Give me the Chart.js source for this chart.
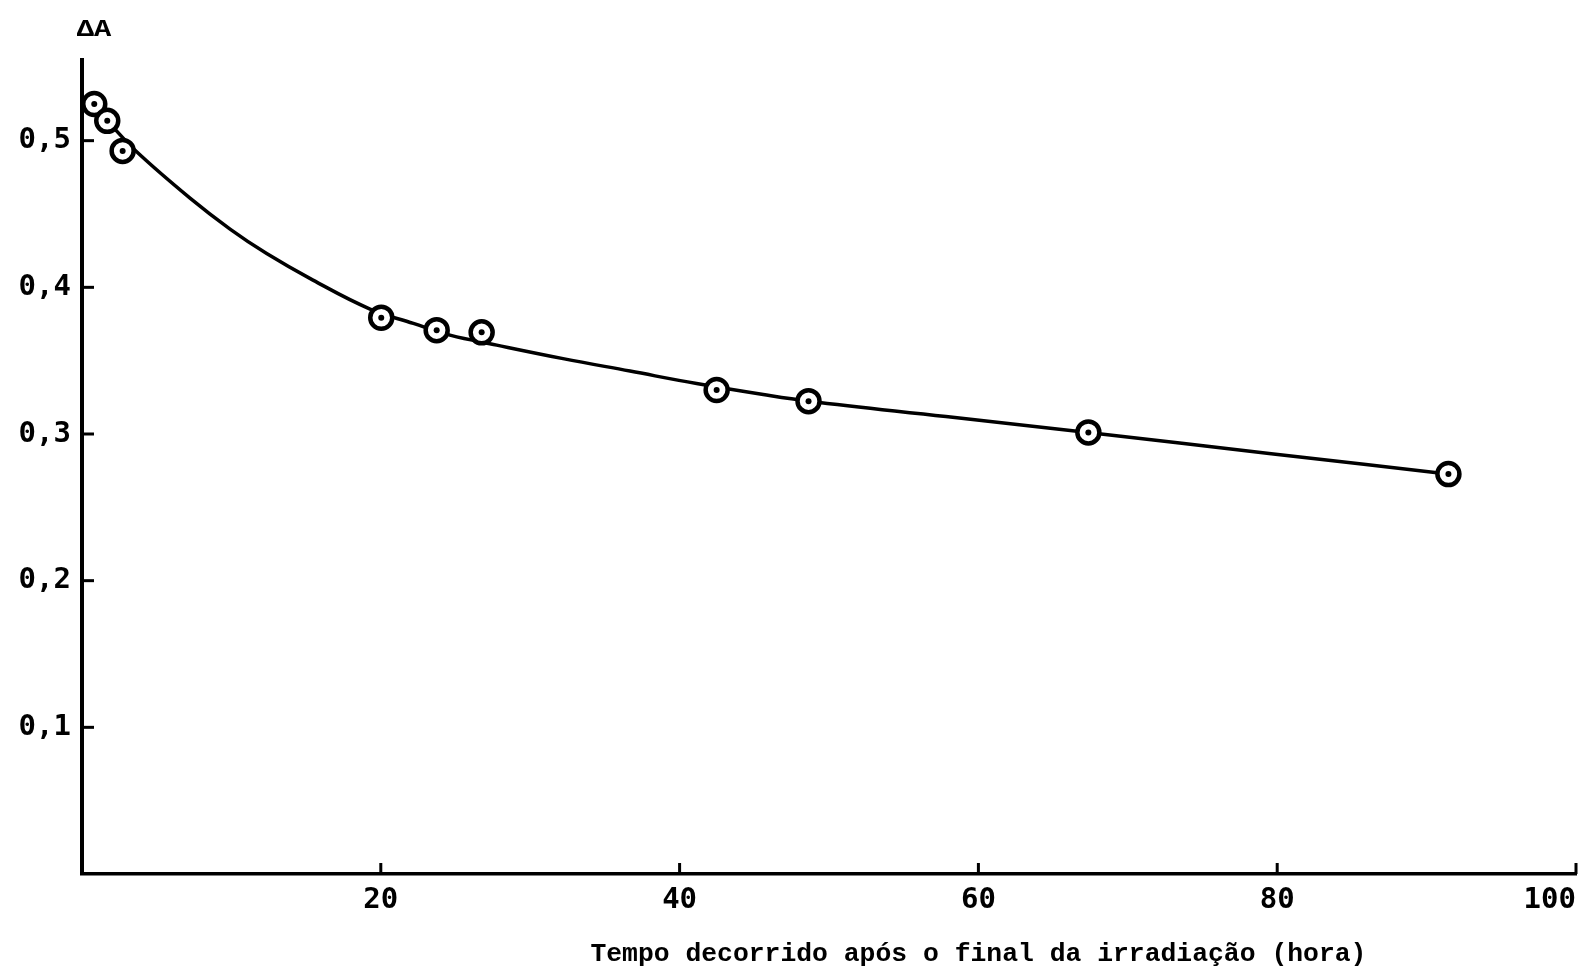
<!DOCTYPE html>
<html><head><meta charset="utf-8">
<script src="https://cdn.jsdelivr.net/npm/chart.js@4"></script>
<style>html,body{margin:0;padding:0;background:#fff;} canvas{display:block;}</style>
</head><body>
<canvas id="c" width="1595" height="973"></canvas>
<script>
const pointX = [0.82, 1.69, 2.72, 20.03, 23.74, 26.75, 42.48, 48.63, 67.36, 91.46];
const pointY = [0.525, 0.5135, 0.493, 0.3793, 0.3708, 0.3693, 0.330, 0.3224, 0.3011, 0.2727];
const curveX = [1.69, 3.66, 7.23, 9.91, 12.36, 15.46, 19.28, 22.18, 24.63, 27.76, 32.2, 36.68, 41.14, 45.6, 48.64, 57.83, 67.34, 79.6, 92.0];
const curveY = [0.5135, 0.4924, 0.4608, 0.4397, 0.4230, 0.4049, 0.3852, 0.3754, 0.3674, 0.3606, 0.3514, 0.3429, 0.3344, 0.3269, 0.3224, 0.3119, 0.3010, 0.2866, 0.2720];
const xTickValues = [0, 20, 40, 60, 80, 100];
const xTickLabels = ['', '20', '40', '60', '80', '100'];
const yTickValues = [0.1, 0.2, 0.3, 0.4, 0.5];
const yTickLabels = ['0,1', '0,2', '0,3', '0,4', '0,5'];
const xTitle = 'Tempo decorrido após o final da irradiação (hora)';
const yTitle = 'ΔA';

const pts = pointX.map((x, i) => ({x: x, y: pointY[i]}));
const curve = curveX.map((x, i) => ({x: x, y: curveY[i]}));

const decor = {
  id: 'decor',
  afterDraw(chart) {
    const {ctx, scales: {x, y}, chartArea: a} = chart;
    ctx.save();
    ctx.strokeStyle = '#000';
    ctx.lineWidth = 3;
    y.ticks.forEach(t => {
      const py = y.getPixelForValue(t.value);
      ctx.beginPath(); ctx.moveTo(a.left, py); ctx.lineTo(a.left + 12, py); ctx.stroke();
    });
    x.ticks.forEach(t => {
      if (t.value === 0) return;
      const px = x.getPixelForValue(t.value);
      ctx.beginPath(); ctx.moveTo(px, a.bottom); ctx.lineTo(px, a.bottom - 11); ctx.stroke();
    });
    ctx.fillStyle = '#000';
    ctx.font = 'bold 26.4px "Liberation Mono", monospace';
    ctx.textAlign = 'center';
    ctx.textBaseline = 'alphabetic';
    ctx.fillText(xTitle, x.getPixelForValue(60), 961);
    ctx.translate(94, 36);
    ctx.scale(1.25, 1);
    ctx.font = 'bold 23px "Liberation Mono", monospace';
    ctx.fillText(yTitle, 0, 0);
    ctx.restore();
  }
};

const tickFont = {family: "'DejaVu Sans Mono', monospace", size: 29, weight: 'bold'};

new Chart(document.getElementById('c'), {
  type: 'scatter',
  data: {
    datasets: [
      {data: pts, pointRadius: 3, pointBackgroundColor: '#000', pointBorderWidth: 0, showLine: false, clip: false},
      {data: pts, pointRadius: 11, pointBorderWidth: 4.5, pointBackgroundColor: '#fff', pointBorderColor: '#000', showLine: false, clip: false},
      {data: curve, showLine: true, pointRadius: 0, borderColor: '#000', borderWidth: 3.5, tension: 0.4, fill: false}
    ]
  },
  options: {
    responsive: false,
    animation: false,
    devicePixelRatio: 1,
    events: [],
    layout: {padding: {top: 60, right: 19, left: 0, bottom: 0}},
    plugins: {legend: {display: false}, tooltip: {enabled: false}, title: {display: false}},
    scales: {
      x: {
        type: 'linear', min: 0, max: 100,
        afterBuildTicks: s => { s.ticks = xTickValues.map(v => ({value: v})); },
        afterFit: s => { s.height = 99; },
        grid: {display: false, drawTicks: false},
        border: {display: true, color: '#000', width: 3.5},
        ticks: {align: 'inner', padding: 9, color: '#000', font: tickFont, maxRotation: 0, autoSkip: false,
          callback: (v, i) => xTickLabels[i]}
      },
      y: {
        type: 'linear', min: 0, max: 0.555,
        afterBuildTicks: s => { s.ticks = yTickValues.map(v => ({value: v})); },
        afterFit: s => { s.width = 82; },
        grid: {display: false, drawTicks: false},
        border: {display: true, color: '#000', width: 4},
        ticks: {padding: 11, color: '#000', font: tickFont, autoSkip: false,
          callback: (v, i) => yTickLabels[i]}
      }
    }
  },
  plugins: [decor]
});
</script>
</body></html>
